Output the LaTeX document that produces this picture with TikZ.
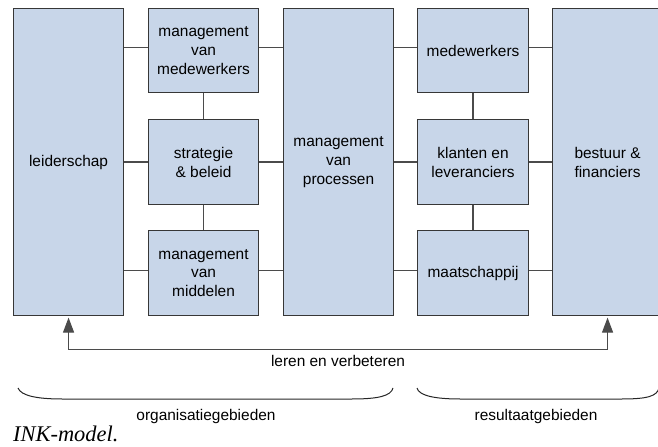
\documentclass[tikz,border=0pt]{standalone}
\usepackage{fontspec}
\setmainfont{Liberation Sans}
\newfontfamily\captionserif{Liberation Serif}
\usetikzlibrary{arrows.meta}
\definecolor{boxfill}{RGB}{200,214,233}
\definecolor{boxline}{RGB}{55,55,55}
\definecolor{linkgray}{RGB}{75,75,75}
\begin{document}
\begin{tikzpicture}[x=1bp,y=-1bp,
  area/.style={draw=boxline, fill=boxfill, line width=1.1bp, inner sep=0pt,
    anchor=north west, align=center, font=\fontsize{15.5}{19}\selectfont},
  tall/.style={minimum width=110bp, minimum height=307bp},
  small/.style={minimum width=110bp, minimum height=85bp},
  connector/.style={draw=linkgray, line width=1.2bp},
  feedback/.style={draw=linkgray, line width=1.2bp,
    {Triangle[length=15bp,width=11bp]}-{Triangle[length=15bp,width=11bp]},
    shorten <=1.5bp, shorten >=1.5bp},
  tag/.style={font=\fontsize{15.5}{19}\selectfont, inner sep=0pt},
  brace/.style={draw=black!85, line width=1bp}]
\useasboundingbox (0,0) rectangle (658,447);

% organisation areas
\node[area, tall]  (lead) at (13,8)    {leiderschap};
\node[area, small, minimum height=84bp] (mm) at (148,8) {management\\van\\medewerkers};
\node[area, small] (sb)   at (148,119) {strategie\\\& beleid};
\node[area, small] (mid)  at (148,230) {management\\van\\middelen};
\node[area, tall]  (proc) at (283,8)   {management\\van\\processen};

% result areas
\node[area, small, minimum width=111bp, minimum height=84bp] (med) at (417,8) {medewerkers};
\node[area, small, minimum width=111bp] (kl)   at (417,119) {klanten en\\leveranciers};
\node[area, small, minimum width=111bp] (maat) at (417,230) {maatschappij};
\node[area, tall]  (bf)   at (552,8)   {bestuur \&\\financiers};

% horizontal links
\draw[connector] ([yshift=3bp]mm.west) -- ([yshift=3bp]mm.west -| lead.east);
\draw[connector] (sb.west) -- (sb.west -| lead.east);
\draw[connector] ([yshift=2.5bp]mid.west) -- ([yshift=2.5bp]mid.west -| lead.east);
\draw[connector] ([yshift=3bp]mm.east) -- ([yshift=3bp]mm.east -| proc.west);
\draw[connector] (sb.east) -- (sb.east -| proc.west);
\draw[connector] ([yshift=2.5bp]mid.east) -- ([yshift=2.5bp]mid.east -| proc.west);
\draw[connector] ([yshift=3bp]med.west) -- ([yshift=3bp]med.west -| proc.east);
\draw[connector] (kl.west) -- (kl.west -| proc.east);
\draw[connector] ([yshift=2.5bp]maat.west) -- ([yshift=2.5bp]maat.west -| proc.east);
\draw[connector] ([yshift=3bp]med.east) -- ([yshift=3bp]med.east -| bf.west);
\draw[connector] (kl.east) -- (kl.east -| bf.west);
\draw[connector] ([yshift=2.5bp]maat.east) -- ([yshift=2.5bp]maat.east -| bf.west);

% vertical links
\draw[connector] (mm.south) -- (sb.north);
\draw[connector] (sb.south) -- (mid.north);
\draw[connector] (med.south) -- (kl.north);
\draw[connector] (kl.south) -- (maat.north);

% learning loop
\draw[feedback] (lead.south) -- ++(0,33) -| (bf.south);
\node[tag] (lv) at (338,361) {leren en verbeteren};

% groupings
\draw[brace] (18,388) .. controls (21,396) and (38,399) .. (62,399) -- (352,399)
  .. controls (378,399) and (391,396) .. (393,388);
\draw[brace] (417,388) .. controls (419,396) and (436,399) .. (460,399) -- (622,399)
  .. controls (648,399) and (657,396) .. (659,388);
\node[tag] (og) at (206,417) {organisatiegebieden};
\node[tag] (rg) at (536,417) {resultaatgebieden};

% caption
\node[anchor=base west, inner sep=0pt,
  font=\captionserif\itshape\fontsize{22.5}{25}\selectfont] (cap) at (13,441) {INK-model.};
\end{tikzpicture}
\end{document}
